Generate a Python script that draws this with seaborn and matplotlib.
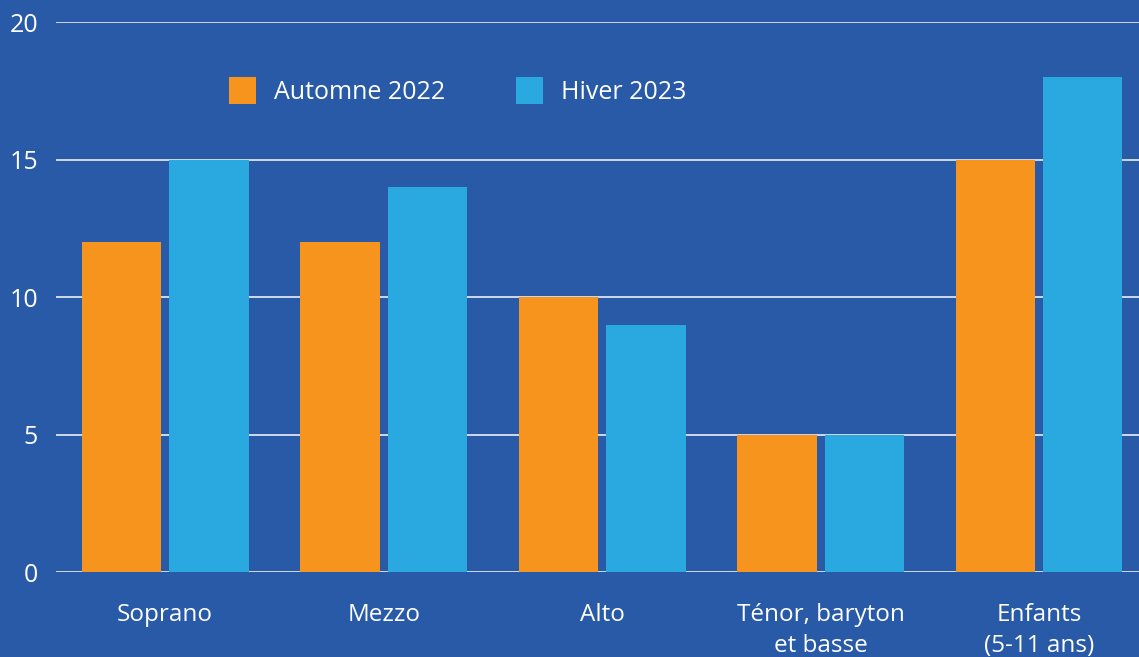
import pandas as pd
import matplotlib.pyplot as plt
import seaborn as sns

categories = ['Soprano', 'Mezzo', 'Alto', 'Ténor, baryton\net basse', 'Enfants\n(5-11 ans)']
automne_2022 = [12, 12, 10, 5, 15]
hiver_2023 = [15, 14, 9, 5, 18]
series = ['Automne 2022', 'Hiver 2023']

bg = '#285AA8'
couleurs = ['#F7941D', '#29A9E0']

df = pd.DataFrame({
    'categorie': categories * 2,
    'valeur': automne_2022 + hiver_2023,
    'saison': [series[0]] * len(categories) + [series[1]] * len(categories),
})

sns.set_style('white')
plt.rcParams['font.family'] = ['Open Sans', 'DejaVu Sans']

fig = plt.figure(figsize=(11.39, 6.57), dpi=100, facecolor=bg)
ax = fig.add_axes([56 / 1139, 85 / 657, 1 - 56 / 1139, 550 / 657])
ax.set_facecolor(bg)

sns.barplot(data=df, x='categorie', y='valeur', hue='saison', palette=couleurs,
            width=0.8, gap=0.09, saturation=1, linewidth=0, ax=ax)

ax.set_ylim(0, 20)
ax.set_xlim(-0.5, (1139 - 165) / 218.5)
ax.set_yticks([0, 5, 10, 15, 20])
ax.yaxis.grid(True, color='#DCE3F0', linewidth=1.3)
ax.set_axisbelow(True)
for s in ax.spines.values():
    s.set_visible(False)
ax.set_xlabel('')
ax.set_ylabel('')
ax.tick_params(axis='y', length=0, pad=13, labelsize=18, labelcolor='white')
ax.tick_params(axis='x', length=0, pad=22, labelsize=17.5, labelcolor='white')
for lab in ax.get_xticklabels():
    lab.set_linespacing(1.4)
    lab.set_verticalalignment('top')

sns.move_legend(ax, loc='center left', bbox_to_anchor=(0.1483, 0.875), ncol=2,
                frameon=False, title=None, fontsize=18, borderpad=0,
                handlelength=1.08, handleheight=1.3, handletextpad=0.7,
                columnspacing=2.85)
for t in ax.get_legend().get_texts():
    t.set_color('white')

plt.savefig('out.png', facecolor=bg)
